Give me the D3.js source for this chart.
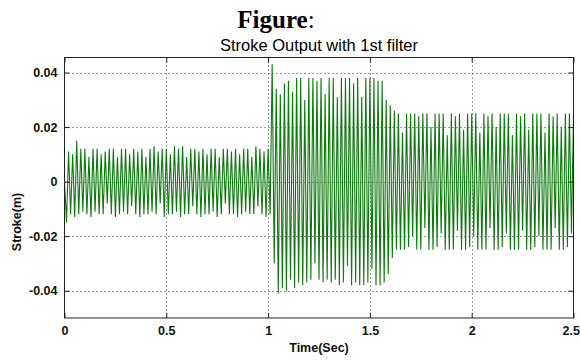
<!DOCTYPE html>
<html>
<head>
<meta charset="utf-8">
<script src="https://cdn.jsdelivr.net/npm/d3@7"></script>
<style>
  html, body { margin: 0; padding: 0; background: #fff; }
  svg { display: block; }
</style>
</head>
<body>
<script>
// ---- data ----
const figureLabel = "Figure";
const chartTitle = "Stroke Output with 1st filter";
const xAxisLabel = "Time(Sec)";
const yAxisLabel = "Stroke(m)";

const xTickValues = [0, 0.5, 1, 1.5, 2, 2.5];
const xTickLabels = ["0", "0.5", "1", "1.5", "2", "2.5"];
const yTickValues = [-0.04, -0.02, 0, 0.02, 0.04];
const yTickLabels = ["-0.04", "-0.02", "0", "0.02", "0.04"];
const xDomain = [0, 2.5];
const yDomain = [-0.05, 0.0455];

// sampling interval between successive extrema (seconds)
const sampleStep = 0.01;
// successive extrema of the stroke signal (m), one per sampleStep
const strokeValues = [
  0, -0.015, 0.011, -0.012, 0.010, -0.013, 0.015, -0.012, 0.012, -0.011,
  0.012, -0.012, 0.009, -0.013, 0.012, -0.011, 0.012, -0.012, 0.010, -0.012,
  0.011, -0.008, 0.012, -0.012, 0.012, -0.013, 0.009, -0.012, 0.012, -0.011,
  0.012, -0.012, 0.010, -0.009, 0.012, -0.012, 0.011, -0.013, 0.012, -0.012,
  0.009, -0.012, 0.012, -0.011, 0.013, -0.012, 0.011, -0.008, 0.012, -0.013,
  0.012, -0.012, 0.010, -0.012, 0.013, -0.011, 0.012, -0.013, 0.013, -0.012,
  0.009, -0.012, 0.012, -0.009, 0.012, -0.012, 0.011, -0.013, 0.012, -0.012,
  0.010, -0.012, 0.012, -0.011, 0.012, -0.013, 0.009, -0.012, 0.012, -0.008,
  0.012, -0.012, 0.011, -0.012, 0.012, -0.013, 0.010, -0.012, 0.012, -0.011,
  0.012, -0.012, 0.009, -0.012, 0.013, -0.009, 0.012, -0.012, 0.011, -0.013,
  0.012, -0.012, 0.043, -0.030, 0.034, -0.041, 0.032, -0.039, 0.036, -0.040,
  0.037, -0.036, 0.033, -0.039, 0.038, -0.037, 0.038, -0.038, 0.030, -0.037,
  0.038, -0.036, 0.038, -0.030, 0.037, -0.036, 0.038, -0.037, 0.032, -0.036,
  0.038, -0.037, 0.038, -0.036, 0.031, -0.038, 0.038, -0.037, 0.038, -0.031,
  0.038, -0.038, 0.036, -0.037, 0.038, -0.038, 0.031, -0.038, 0.038, -0.037,
  0.038, -0.032, 0.038, -0.038, 0.037, -0.038, 0.037, -0.037, 0.030, -0.034,
  0.028, -0.028, 0.026, -0.025, 0.025, -0.025, 0.018, -0.025, 0.025, -0.024,
  0.025, -0.020, 0.025, -0.025, 0.024, -0.025, 0.025, -0.017, 0.025, -0.025,
  0.020, -0.025, 0.025, -0.024, 0.025, -0.019, 0.025, -0.025, 0.017, -0.025,
  0.025, -0.025, 0.024, -0.018, 0.025, -0.025, 0.019, -0.025, 0.025, -0.024,
  0.025, -0.020, 0.025, -0.025, 0.018, -0.025, 0.025, -0.025, 0.024, -0.017,
  0.025, -0.025, 0.020, -0.025, 0.025, -0.024, 0.025, -0.019, 0.025, -0.025,
  0.017, -0.025, 0.025, -0.025, 0.024, -0.018, 0.025, -0.025, 0.019, -0.025,
  0.025, -0.024, 0.025, -0.020, 0.025, -0.025, 0.018, -0.025, 0.025, -0.025,
  0.024, -0.017, 0.025, -0.025, 0.020, -0.025, 0.025, -0.024, 0.025, -0.019,
  0.025
];

// ---- layout ----
const W = 580, H = 360;
const plot = { left: 64.5, right: 573.5, top: 57.5, bottom: 318 };
const tickFont = "'Liberation Sans', Arial, sans-serif";

const svg = d3.select("body").append("svg")
  .attr("width", W).attr("height", H)
  .style("background", "#fff");

const x = d3.scaleLinear().domain(xDomain).range([plot.left, plot.right]);
const y = d3.scaleLinear().domain(yDomain).range([plot.bottom, plot.top]);

// grid (dotted)
const grid = svg.append("g").attr("stroke", "#000").attr("stroke-width", 1)
  .attr("stroke-dasharray", "1,3").attr("opacity", 0.75);
grid.selectAll("line.gx").data(xTickValues.filter(v => v > xDomain[0] && v < xDomain[1]))
  .join("line")
  .attr("x1", d => Math.round(x(d)) + 0.5).attr("x2", d => Math.round(x(d)) + 0.5)
  .attr("y1", plot.top).attr("y2", plot.bottom);
grid.selectAll("line.gy").data(yTickValues)
  .join("line").attr("class", "gy")
  .attr("x1", plot.left).attr("x2", plot.right)
  .attr("y1", d => Math.round(y(d)) + 0.5).attr("y2", d => Math.round(y(d)) + 0.5);

// signal
const series = strokeValues.map((v, i) => ({ t: i * sampleStep, v }));
const line = d3.line().x(d => x(d.t)).y(d => y(d.v));
svg.append("path")
  .datum(series)
  .attr("d", line)
  .attr("fill", "none")
  .attr("stroke", "#0d7a0d")
  .attr("stroke-width", 1.1);

// axes: bottom / left with labels, ticks pointing inward
const xAxis = d3.axisBottom(x).tickValues(xTickValues)
  .tickFormat((d, i) => xTickLabels[i]).tickSizeInner(-5).tickSizeOuter(0).tickPadding(8);
const yAxis = d3.axisLeft(y).tickValues(yTickValues)
  .tickFormat((d, i) => yTickLabels[i]).tickSizeInner(-5).tickSizeOuter(0).tickPadding(7);
const xTop = d3.axisTop(x).tickValues(xTickValues).tickFormat("").tickSizeInner(-5).tickSizeOuter(0);
const yRight = d3.axisRight(y).tickValues(yTickValues).tickFormat("").tickSizeInner(-5).tickSizeOuter(0);

function styleAxis(g) {
  g.select(".domain").remove();
  g.selectAll(".tick line").attr("stroke", "#222");
  g.selectAll("text").attr("font-family", tickFont).attr("font-weight", "bold")
    .attr("font-size", 12.5).attr("fill", "#111");
}
const gx = svg.append("g").attr("transform", `translate(0,${plot.bottom})`).call(xAxis).call(styleAxis);
// keep the last label inside the 580px frame
gx.selectAll(".tick text").filter(d => d === xDomain[1])
  .attr("text-anchor", "end").attr("x", 6);
svg.append("g").attr("transform", `translate(${plot.left},0)`).call(yAxis).call(styleAxis);
svg.append("g").attr("transform", `translate(0,${plot.top})`).call(xTop).call(styleAxis);
svg.append("g").attr("transform", `translate(${plot.right},0)`).call(yRight).call(styleAxis);

// box
svg.append("rect")
  .attr("x", plot.left).attr("y", plot.top)
  .attr("width", plot.right - plot.left).attr("height", plot.bottom - plot.top)
  .attr("fill", "none").attr("stroke", "#222").attr("stroke-width", 1);

// titles
const fig = svg.append("text").attr("x", 276).attr("y", 28).attr("text-anchor", "middle")
  .attr("font-family", "'Liberation Serif', 'Times New Roman', serif").attr("font-size", 25)
  .attr("fill", "#000");
fig.append("tspan").attr("font-weight", "bold").text(figureLabel);
fig.append("tspan").text(":");

svg.append("text").attr("x", (plot.left + plot.right) / 2).attr("y", 51)
  .attr("text-anchor", "middle").attr("font-family", tickFont).attr("font-size", 16.5)
  .attr("fill", "#000").text(chartTitle);

svg.append("text").attr("x", (plot.left + plot.right) / 2).attr("y", 352)
  .attr("text-anchor", "middle").attr("font-family", tickFont).attr("font-weight", "bold")
  .attr("font-size", 12.5).attr("fill", "#111").text(xAxisLabel);

svg.append("text").attr("transform", "translate(21,222) rotate(-90)")
  .attr("text-anchor", "middle").attr("font-family", tickFont).attr("font-weight", "bold")
  .attr("font-size", 12.5).attr("fill", "#111").text(yAxisLabel);
</script>
</body>
</html>
